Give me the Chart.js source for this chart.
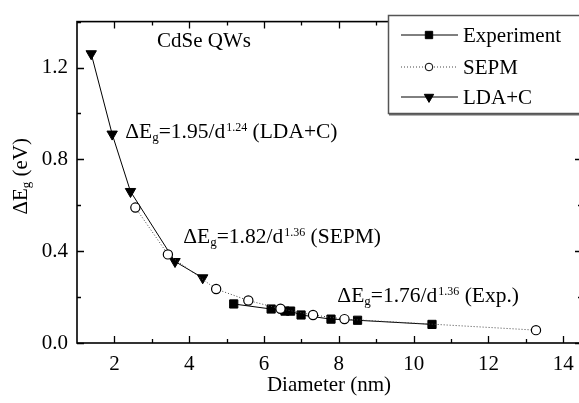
<!DOCTYPE html>
<html>
<head>
<meta charset="utf-8">
<script src="https://cdn.jsdelivr.net/npm/chart.js@4/dist/chart.umd.min.js"></script>
<style>
  html, body { margin: 0; padding: 0; background: #fff; overflow: hidden; }
  canvas { display: block; }
</style>
</head>
<body>
<canvas id="c" width="590" height="403"></canvas>
<script>
// Band-gap shift of CdSe quantum wires versus diameter
const expDiameter = [5.19, 6.19, 6.56, 6.71, 6.99, 7.79, 8.50, 10.49];
const expGap      = [0.170, 0.148, 0.139, 0.139, 0.122, 0.104, 0.099, 0.081];
const sepmDiameter = [2.56, 3.43, 4.72, 5.58, 6.44, 7.31, 8.15, 13.27];
const sepmGap      = [0.590, 0.386, 0.235, 0.185, 0.149, 0.122, 0.104, 0.056];
const ldaDiameter = [1.38, 1.94, 2.43, 3.62, 4.36];
const ldaGap      = [1.26, 0.91, 0.66, 0.355, 0.284];

const xTicks = [2, 4, 6, 8, 10, 12, 14];
const yTicks = [0.0, 0.4, 0.8, 1.2];
const seriesNames = ['Experiment', 'SEPM', 'LDA+C'];

// fitted power laws written on the plot; (x, y) is where each label's baseline starts
const fitLabels = [
  { coef: '1.95', exp: '1.24', tag: 'LDA+C', x: 2.29, y: 0.893 },
  { coef: '1.82', exp: '1.36', tag: 'SEPM',  x: 3.84, y: 0.436 },
  { coef: '1.76', exp: '1.36', tag: 'Exp.',  x: 7.96, y: 0.177 }
];

const FONT = '"Liberation Serif", "Times New Roman", serif';
const BIG = '21.5px ' + FONT;
const pts = (xs, ys) => xs.map((x, i) => ({ x, y: ys[i] }));

// Draws "ΔE_g=<coef>/d^<exp> (<tag>)" with sub- and superscript, left-aligned at (x, baseline)
function drawFit(ctx, x, y, coef, exp, tag) {
  ctx.textBaseline = 'alphabetic';
  ctx.textAlign = 'left';
  ctx.font = BIG;
  ctx.fillText('\u0394E', x, y);
  x += ctx.measureText('\u0394E').width;
  ctx.font = '13px ' + FONT;
  ctx.fillText('g', x, y + 3);
  x += ctx.measureText('g').width;
  ctx.font = BIG;
  const mid = '=' + coef + '/d';
  ctx.fillText(mid, x, y);
  x += ctx.measureText(mid).width + 1;
  ctx.font = '12px ' + FONT;
  ctx.fillText(exp, x, y - 7);
  x += ctx.measureText(exp).width;
  ctx.font = BIG;
  ctx.fillText(' (' + tag + ')', x, y);
}

const framePlugin = {
  id: 'frame',
  afterDatasetsDraw(chart) {
    const { ctx, chartArea: a, scales: { x, y } } = chart;
    ctx.save();
    ctx.strokeStyle = '#000';
    ctx.fillStyle = '#000';
    ctx.lineWidth = 1.6;
    ctx.strokeRect(a.left, a.top, a.right - a.left, a.bottom - a.top);

    // inward ticks on all four sides
    ctx.lineWidth = 1.3;
    ctx.beginPath();
    for (let v = 2; v <= 14; v += 1) {
      const px = Math.round(x.getPixelForValue(v)) + 0.5;
      const len = v % 2 === 0 ? 7 : 4;
      ctx.moveTo(px, a.bottom); ctx.lineTo(px, a.bottom - len);
      ctx.moveTo(px, a.top); ctx.lineTo(px, a.top + len);
    }
    for (let k = 0; k <= 7; k++) {
      const v = k * 0.2;
      const py = Math.round(y.getPixelForValue(v)) + 0.5;
      const len = k % 2 === 0 ? 7 : 4;
      ctx.moveTo(a.left, py); ctx.lineTo(a.left + len, py);
      ctx.moveTo(a.right, py); ctx.lineTo(a.right - len, py);
    }
    ctx.stroke();

    // axis titles
    ctx.font = '21px ' + FONT;
    ctx.textAlign = 'center';
    ctx.textBaseline = 'alphabetic';
    ctx.fillText('Diameter (nm)', (a.left + 577) / 2 + 2, 391);

    ctx.save();
    ctx.translate(27, (a.top + a.bottom) / 2 - 6);
    ctx.rotate(-Math.PI / 2);
    ctx.textAlign = 'left';
    ctx.font = '21px ' + FONT;
    const w1 = ctx.measureText('\u0394E').width;
    ctx.font = '13px ' + FONT;
    const w2 = ctx.measureText('g').width;
    ctx.font = '21px ' + FONT;
    const w3 = ctx.measureText(' (eV)').width;
    let tx = -(w1 + w2 + w3) / 2;
    ctx.fillText('\u0394E', tx, 0); tx += w1;
    ctx.font = '13px ' + FONT;
    ctx.fillText('g', tx, 3); tx += w2;
    ctx.font = '21px ' + FONT;
    ctx.fillText(' (eV)', tx, 0);
    ctx.restore();

    // sample label
    ctx.textAlign = 'left';
    ctx.font = '21px ' + FONT;
    ctx.fillText('CdSe QWs', 157, 47);

    // fitted-law labels
    fitLabels.forEach(f => {
      drawFit(ctx, x.getPixelForValue(f.x), y.getPixelForValue(f.y), f.coef, f.exp, f.tag);
    });

    // legend box
    const lx = 388, ly = 15, lw = 210, lh = 98;
    ctx.fillStyle = '#fff';
    ctx.fillRect(lx, ly, lw, lh);
    ctx.strokeStyle = '#555';
    ctx.lineWidth = 1.5;
    ctx.strokeRect(lx + 0.5, ly + 0.5, lw, lh);
    ctx.fillStyle = '#666';
    ctx.fillRect(lx + 1, ly + lh + 1, lw, 1.5);

    const rows = [35, 67, 97];
    chart.data.datasets.forEach((ds, i) => {
      const ry = rows[i];
      ctx.save();
      ctx.strokeStyle = ds.borderColor;
      ctx.lineWidth = ds.borderWidth;
      ctx.setLineDash(ds.borderDash || []);
      ctx.beginPath();
      ctx.moveTo(401, ry); ctx.lineTo(458, ry);
      ctx.stroke();
      ctx.setLineDash([]);
      ctx.fillStyle = ds.pointBackgroundColor;
      ctx.strokeStyle = ds.pointBorderColor;
      ctx.lineWidth = 1;
      Chart.helpers.drawPoint(ctx, {
        pointStyle: ds.pointStyle,
        rotation: ds.pointRotation || 0,
        radius: ds.legendRadius,
        borderWidth: 1
      }, 429, ry);
      ctx.restore();
      ctx.fillStyle = '#000';
      ctx.font = '21px ' + FONT;
      ctx.textBaseline = 'middle';
      ctx.fillText(seriesNames[i], 463, ry + 1);
    });
    ctx.restore();
  }
};

new Chart(document.getElementById('c'), {
  type: 'scatter',
  data: {
    datasets: [
      {
        label: seriesNames[0],
        data: pts(expDiameter, expGap),
        showLine: true,
        borderColor: '#000',
        borderWidth: 1,
        pointStyle: 'rect',
        pointRadius: 5.8,
        legendRadius: 5.2,
        pointBackgroundColor: '#000',
        pointBorderColor: '#000',
        pointBorderWidth: 1,
        order: 3
      },
      {
        label: seriesNames[1],
        data: pts(sepmDiameter, sepmGap),
        showLine: true,
        borderColor: '#444',
        borderWidth: 1,
        borderDash: [1, 2],
        pointStyle: 'circle',
        pointRadius: 4.6,
        legendRadius: 3.8,
        pointBackgroundColor: '#fff',
        pointBorderColor: '#000',
        pointBorderWidth: 1.2,
        order: 1
      },
      {
        label: seriesNames[2],
        data: pts(ldaDiameter, ldaGap),
        showLine: true,
        borderColor: '#000',
        borderWidth: 1,
        pointStyle: 'triangle',
        pointRotation: 180,
        pointRadius: 6,
        legendRadius: 5.4,
        pointBackgroundColor: '#000',
        pointBorderColor: '#000',
        pointBorderWidth: 1,
        order: 2
      }
    ]
  },
  options: {
    responsive: false,
    animation: false,
    events: [],
    layout: { padding: { top: 3, right: 8, left: 0, bottom: 0 } },
    plugins: { legend: { display: false }, tooltip: { enabled: false } },
    elements: { line: { tension: 0 } },
    scales: {
      x: {
        type: 'linear',
        min: 1, max: 14.5,
        afterBuildTicks: s => { s.ticks = xTicks.map(v => ({ value: v })); },
        afterFit: s => { s.height = 60; },
        grid: { display: false, drawTicks: false },
        border: { display: false },
        ticks: {
          color: '#000',
          padding: 9,
          maxRotation: 0,
          autoSkip: false,
          font: { family: FONT, size: 21 },
          callback: v => String(v)
        }
      },
      y: {
        type: 'linear',
        min: 0, max: 1.4,
        afterBuildTicks: s => { s.ticks = yTicks.map(v => ({ value: v })); },
        afterFit: s => { s.width = 77; },
        grid: { display: false, drawTicks: false },
        border: { display: false },
        ticks: {
          color: '#000',
          padding: 9,
          autoSkip: false,
          font: { family: FONT, size: 21 },
          callback: v => Number(v).toFixed(1)
        }
      }
    }
  },
  plugins: [framePlugin]
});
</script>
</body>
</html>
